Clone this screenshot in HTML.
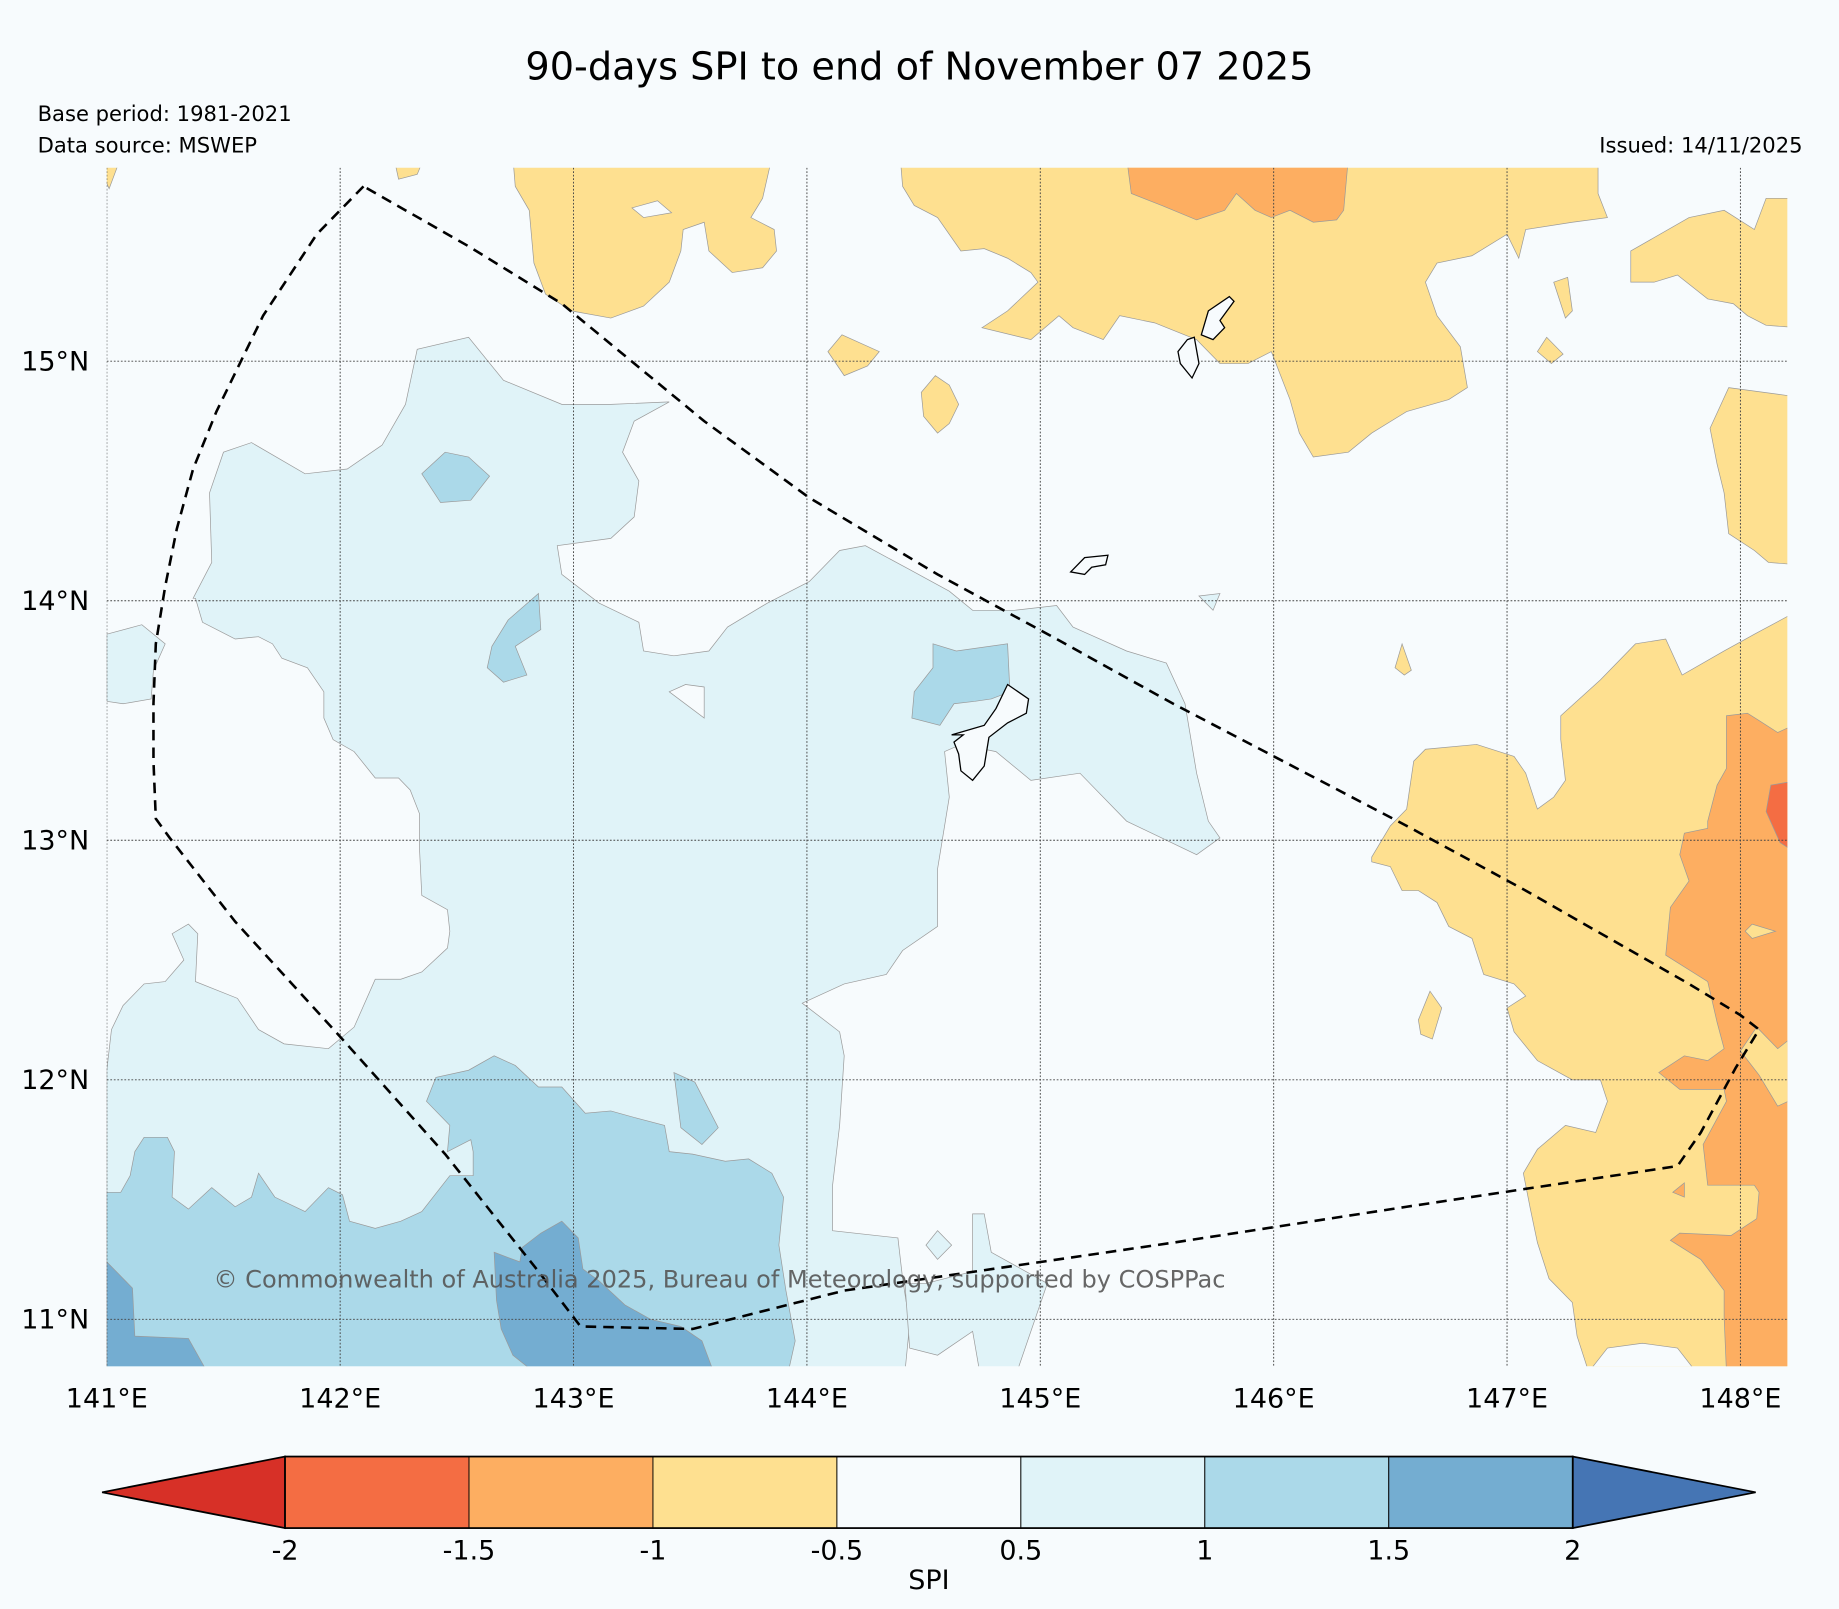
<!DOCTYPE html>
<html><head><meta charset="utf-8"><style>
html,body{margin:0;padding:0;background:#f7fbfd;}
svg{display:block;font-family:"DejaVu Sans","Liberation Sans",sans-serif;}
</style></head><body>
<svg id="chart" width="1839" height="1609" viewBox="0 0 1568 1372" xmlns="http://www.w3.org/2000/svg">
<rect x="0" y="0" width="1568" height="1372" fill="#f7fbfd"/>
<text x="784" y="68" text-anchor="middle" font-size="32.6" fill="#000">90-days SPI to end of November 07 2025</text>
<text x="32" y="103" font-size="18" fill="#000">Base period: 1981-2021</text>
<text x="32" y="130" font-size="18" fill="#000">Data source: MSWEP</text>
<text x="1537" y="130" text-anchor="end" font-size="18" fill="#000">Issued: 14/11/2025</text>
<defs><clipPath id="mapclip"><rect x="91" y="143" width="1433" height="1022"/></clipPath></defs>
<g id="map" clip-path="url(#mapclip)"></g>
<g id="axes"></g>
<g id="cbar"></g>
</svg>
<script>
// ---- data ----
const levels = [-2, -1.5, -1, -0.5, 0.5, 1, 1.5, 2];
const levelLabels = ["-2", "-1.5", "-1", "-0.5", "0.5", "1", "1.5", "2"];
const classColors = ["#d73027", "#f46d43", "#fdae61", "#fee090", "#f7fbfd", "#e0f3f8", "#abd9e9", "#74add1", "#4575b4"];
const lonTicks = [141, 142, 143, 144, 145, 146, 147, 148];
const lonLabels = ["141°E", "142°E", "143°E", "144°E", "145°E", "146°E", "147°E", "148°E"];
const latTicks = [11, 12, 13, 14, 15];
const latLabels = ["11°N", "12°N", "13°N", "14°N", "15°N"];

const lightMain = [[141.37,14.01],[141.45,14.16],[141.44,14.45],[141.50,14.62],[141.62,14.66],[141.85,14.53],[142.03,14.55],[142.18,14.65],[142.28,14.82],[142.33,15.05],[142.55,15.10],[142.70,14.92],[142.95,14.82],[143.16,14.82],[143.41,14.83],[143.26,14.75],[143.21,14.62],[143.28,14.50],[143.26,14.35],[143.16,14.26],[142.93,14.23],[142.95,14.11],[143.11,13.99],[143.28,13.91],[143.30,13.79],[143.43,13.77],[143.58,13.79],[143.66,13.89],[143.83,13.99],[144.01,14.08],[144.14,14.21],[144.25,14.23],[144.44,14.13],[144.61,14.04],[144.71,13.96],[144.89,13.96],[145.07,13.98],[145.14,13.89],[145.37,13.79],[145.54,13.74],[145.62,13.57],[145.67,13.28],[145.72,13.08],[145.77,13.01],[145.67,12.94],[145.52,13.01],[145.37,13.08],[145.17,13.28],[144.96,13.25],[144.81,13.37],[144.66,13.40],[144.59,13.37],[144.61,13.18],[144.56,12.88],[144.56,12.64],[144.41,12.54],[144.34,12.44],[144.16,12.40],[143.98,12.32],[144.14,12.20],[144.16,12.10],[144.14,11.81],[144.11,11.56],[144.11,11.37],[144.39,11.34],[144.41,11.17],[144.44,10.98],[144.42,10.78],[141.00,10.78],[141.00,12.04],[141.02,12.21],[141.07,12.31],[141.16,12.40],[141.25,12.41],[141.33,12.50],[141.28,12.61],[141.35,12.65],[141.39,12.61],[141.38,12.41],[141.56,12.34],[141.65,12.21],[141.76,12.15],[141.95,12.13],[142.06,12.22],[142.15,12.42],[142.26,12.42],[142.35,12.45],[142.46,12.55],[142.47,12.62],[142.46,12.71],[142.35,12.77],[142.34,12.96],[142.34,13.11],[142.30,13.21],[142.25,13.26],[142.15,13.26],[142.06,13.37],[141.97,13.42],[141.93,13.51],[141.93,13.62],[141.86,13.72],[141.75,13.76],[141.71,13.82],[141.65,13.85],[141.55,13.84],[141.41,13.91],[141.38,14.01]];
const lightLeft = [[141.00,13.86],[141.15,13.90],[141.25,13.82],[141.20,13.71],[141.19,13.59],[141.07,13.57],[141.00,13.58]];
const lightSouth = [[144.42,11.15],[144.51,11.15],[144.71,11.20],[144.71,11.44],[144.76,11.44],[144.79,11.28],[145.03,11.15],[144.96,10.95],[144.90,10.78],[144.74,10.78],[144.71,10.95],[144.56,10.85],[144.44,10.88]];
const lightDiamond = [[144.56,11.37],[144.62,11.31],[144.56,11.25],[144.51,11.31]];
const lightSmall = [[145.68,14.02],[145.77,14.03],[145.74,13.96]];
const holeWhite1 = [[143.41,13.62],[143.48,13.65],[143.56,13.64],[143.56,13.51]];
const medSouth = [[141.00,11.53],[141.06,11.53],[141.10,11.60],[141.12,11.70],[141.16,11.76],[141.26,11.76],[141.29,11.70],[141.28,11.51],[141.35,11.46],[141.45,11.55],[141.55,11.47],[141.62,11.51],[141.65,11.61],[141.72,11.51],[141.85,11.45],[141.95,11.55],[142.01,11.52],[142.04,11.41],[142.15,11.38],[142.26,11.41],[142.35,11.45],[142.47,11.60],[142.57,11.60],[142.57,11.70],[142.56,11.75],[142.46,11.70],[142.47,11.81],[142.37,11.91],[142.41,12.01],[142.55,12.04],[142.66,12.10],[142.75,12.06],[142.85,11.97],[142.95,11.97],[143.05,11.86],[143.16,11.87],[143.27,11.84],[143.39,11.81],[143.41,11.70],[143.51,11.69],[143.65,11.66],[143.75,11.67],[143.85,11.61],[143.90,11.51],[143.88,11.31],[143.91,11.12],[143.95,10.91],[143.92,10.78],[141.00,10.78]];
const medBlob1 = [[143.43,12.03],[143.52,11.99],[143.62,11.80],[143.55,11.73],[143.46,11.80]];
const medBlob2 = [[142.72,13.92],[142.85,14.03],[142.86,13.88],[142.75,13.81],[142.80,13.69],[142.70,13.66],[142.63,13.72],[142.65,13.81]];
const medBlob3 = [[142.35,14.53],[142.45,14.62],[142.55,14.60],[142.64,14.52],[142.56,14.42],[142.43,14.41]];
const medBlob4 = [[144.54,13.82],[144.64,13.79],[144.86,13.82],[144.87,13.62],[144.79,13.59],[144.72,13.58],[144.63,13.57],[144.57,13.48],[144.45,13.51],[144.46,13.62],[144.54,13.72]];
const darkCorner = [[141.00,11.24],[141.11,11.13],[141.12,10.93],[141.35,10.92],[141.43,10.78],[141.00,10.78]];
const darkMid = [[142.66,11.28],[142.77,11.24],[142.78,11.30],[142.86,11.36],[142.95,11.41],[143.02,11.34],[143.04,11.21],[143.11,11.16],[143.22,11.06],[143.33,11.00],[143.46,10.97],[143.55,10.91],[143.60,10.78],[142.83,10.78],[142.74,10.85],[142.69,10.96],[142.67,11.08]];
const yelTop1 = [[142.74,15.85],[143.85,15.85],[143.81,15.68],[143.76,15.60],[143.86,15.55],[143.87,15.46],[143.81,15.39],[143.68,15.37],[143.58,15.46],[143.56,15.58],[143.47,15.55],[143.46,15.46],[143.41,15.33],[143.30,15.23],[143.16,15.18],[142.99,15.21],[142.88,15.28],[142.83,15.41],[142.81,15.63],[142.75,15.73]];
const holeWhite2 = [[143.25,15.64],[143.36,15.67],[143.42,15.62],[143.30,15.60]];
const yelTop2 = [[144.40,15.85],[147.39,15.85],[147.39,15.70],[147.43,15.60],[147.28,15.58],[147.08,15.55],[147.05,15.43],[147.00,15.53],[146.85,15.44],[146.70,15.41],[146.65,15.33],[146.70,15.19],[146.80,15.06],[146.83,14.89],[146.75,14.84],[146.57,14.79],[146.42,14.70],[146.32,14.62],[146.17,14.60],[146.11,14.70],[146.07,14.84],[145.99,15.04],[145.89,14.99],[145.77,14.99],[145.67,15.09],[145.49,15.16],[145.34,15.19],[145.27,15.09],[145.14,15.14],[145.08,15.19],[144.96,15.09],[144.75,15.14],[144.86,15.21],[144.99,15.33],[144.96,15.37],[144.86,15.43],[144.76,15.47],[144.66,15.46],[144.56,15.60],[144.46,15.65],[144.41,15.73]];
const orgTop = [[145.37,15.85],[146.32,15.85],[146.30,15.63],[146.27,15.59],[146.17,15.58],[146.07,15.63],[145.99,15.60],[145.92,15.63],[145.84,15.70],[145.79,15.63],[145.67,15.59],[145.52,15.65],[145.39,15.70]];
const yelTopRight = [[147.53,15.46],[147.78,15.60],[147.93,15.63],[148.06,15.55],[148.11,15.68],[148.25,15.68],[148.25,15.14],[148.11,15.15],[148.03,15.19],[147.97,15.24],[147.86,15.26],[147.73,15.36],[147.63,15.33],[147.53,15.33]];
const yelRight1 = [[147.95,14.89],[148.25,14.85],[148.25,14.15],[148.12,14.16],[148.06,14.21],[147.95,14.28],[147.93,14.45],[147.90,14.57],[147.87,14.72]];
const yelS1 = [[144.09,15.04],[144.15,15.11],[144.31,15.04],[144.26,14.98],[144.16,14.94]];
const yelS2 = [[144.49,14.87],[144.55,14.94],[144.61,14.90],[144.65,14.82],[144.61,14.74],[144.56,14.70],[144.50,14.77]];
const yelS3 = [[147.13,15.04],[147.17,15.10],[147.24,15.03],[147.19,14.99]];
const yelS4 = [[147.20,15.33],[147.26,15.35],[147.28,15.21],[147.25,15.18]];
const yelS5 = [[142.23,15.85],[142.36,15.85],[142.33,15.78],[142.25,15.76]];
const yelS6 = [[140.95,15.85],[141.06,15.85],[141.01,15.72]];
const yelS7 = [[146.52,13.72],[146.55,13.82],[146.59,13.71],[146.56,13.69]];
const yelS8 = [[146.62,12.25],[146.67,12.37],[146.72,12.30],[146.68,12.17],[146.63,12.19]];
const yelRightBig = [[146.42,12.93],[146.50,13.06],[146.57,13.13],[146.60,13.33],[146.65,13.38],[146.87,13.40],[147.03,13.35],[147.08,13.28],[147.13,13.13],[147.20,13.18],[147.25,13.25],[147.23,13.42],[147.23,13.52],[147.40,13.67],[147.55,13.82],[147.68,13.84],[147.75,13.69],[147.93,13.79],[148.06,13.86],[148.25,13.96],[148.25,10.78],[147.35,10.78],[147.30,10.93],[147.28,11.07],[147.18,11.17],[147.13,11.32],[147.10,11.46],[147.07,11.61],[147.13,11.71],[147.25,11.81],[147.38,11.78],[147.43,11.91],[147.40,12.00],[147.28,12.00],[147.13,12.08],[147.03,12.20],[147.00,12.30],[147.08,12.35],[147.03,12.40],[146.90,12.44],[146.85,12.59],[146.75,12.64],[146.70,12.74],[146.62,12.79],[146.55,12.79],[146.50,12.89],[146.42,12.91]];
const holeWhite3 = [[147.35,10.78],[147.43,10.88],[147.58,10.90],[147.73,10.88],[147.81,10.78]];
const orgRight = [[147.94,13.52],[148.03,13.53],[148.08,13.50],[148.16,13.45],[148.25,13.49],[148.25,10.78],[147.94,10.78],[147.93,11.01],[147.93,11.12],[147.83,11.25],[147.70,11.33],[147.74,11.36],[147.96,11.35],[148.07,11.42],[148.08,11.53],[148.06,11.56],[147.86,11.56],[147.84,11.73],[147.94,11.91],[147.93,11.96],[147.74,11.96],[147.65,12.03],[147.76,12.10],[147.86,12.08],[147.93,12.13],[147.90,12.24],[147.86,12.41],[147.68,12.52],[147.70,12.72],[147.78,12.83],[147.74,12.94],[147.76,13.03],[147.86,13.05],[147.86,13.08],[147.90,13.23],[147.94,13.30]];
const yelInOrg1 = [[148.00,12.12],[148.07,12.22],[148.16,12.13],[148.25,12.20],[148.25,11.93],[148.16,11.89],[148.08,12.02]];
const yelInOrg2 = [[148.02,12.62],[148.05,12.65],[148.15,12.62],[148.05,12.59]];
const orgSmall = [[147.71,11.53],[147.76,11.57],[147.76,11.51]];
const redRight = [[148.13,13.23],[148.25,13.25],[148.25,12.94],[148.17,12.99],[148.11,13.12]];

const polygons = [
 [5,"contour-light-blue-main",lightMain],[5,"contour-light-blue-west",lightLeft],[5,"contour-light-blue-south",lightSouth],[5,"contour-light-blue-diamond",lightDiamond],[5,"contour-light-blue-small",lightSmall],
 [4,"contour-hole",holeWhite1],
 [6,"contour-mid-blue-south",medSouth],[6,"contour-mid-blue-blob",medBlob1],[6,"contour-mid-blue-blob",medBlob2],[6,"contour-mid-blue-blob",medBlob3],[6,"contour-mid-blue-blob",medBlob4],
 [7,"contour-dark-blue-corner",darkCorner],[7,"contour-dark-blue-mid",darkMid],
 [3,"contour-yellow-north",yelTop1],[4,"contour-hole",holeWhite2],[3,"contour-yellow-northeast",yelTop2],[2,"contour-orange-north",orgTop],
 [3,"contour-yellow-corner",yelTopRight],[3,"contour-yellow-east",yelRight1],
 [3,"contour-yellow-small",yelS1],[3,"contour-yellow-small",yelS2],[3,"contour-yellow-small",yelS3],[3,"contour-yellow-small",yelS4],[3,"contour-yellow-small",yelS5],[3,"contour-yellow-small",yelS6],[3,"contour-yellow-small",yelS7],[3,"contour-yellow-small",yelS8],
 [3,"contour-yellow-southeast",yelRightBig],[4,"contour-hole",holeWhite3],
 [2,"contour-orange-east",orgRight],[3,"contour-yellow-in-orange",yelInOrg1],[3,"contour-yellow-in-orange",yelInOrg2],[2,"contour-orange-small",orgSmall],[1,"contour-red-east",redRight]
];
const boundaryLine = [[142.10,15.73],[141.90,15.53],[141.67,15.19],[141.57,14.99],[141.47,14.79],[141.37,14.55],[141.30,14.30],[141.25,14.06],[141.21,13.82],[141.20,13.57],[141.20,13.33],[141.21,13.09],[141.27,13.01],[141.55,12.66],[142.00,12.18],[142.45,11.69],[142.85,11.20],[143.03,10.97],[143.51,10.96],[144.16,11.12],[145.57,11.32],[146.57,11.47],[147.73,11.64],[147.83,11.78],[147.98,12.05],[148.08,12.21],[148.00,12.27],[147.78,12.40],[147.08,12.79],[146.57,13.06],[145.57,13.57],[145.07,13.84],[144.56,14.11],[144.01,14.43],[143.56,14.75],[142.95,15.24],[142.55,15.48],[142.10,15.73]];
const islandGuam = [[144.86,13.65],[144.95,13.59],[144.94,13.53],[144.86,13.49],[144.78,13.43],[144.76,13.31],[144.71,13.25],[144.66,13.29],[144.65,13.36],[144.63,13.41],[144.67,13.44],[144.62,13.44],[144.76,13.48],[144.81,13.55]];
const islandRota = [[145.13,14.12],[145.19,14.18],[145.29,14.19],[145.28,14.15],[145.22,14.14],[145.19,14.11]];
const islandSaipan = [[145.72,15.21],[145.81,15.27],[145.83,15.25],[145.77,15.17],[145.79,15.14],[145.74,15.09],[145.69,15.11]];
const islandTinian = [[145.63,15.09],[145.66,15.10],[145.68,14.99],[145.65,14.93],[145.60,14.99],[145.59,15.04]];

// ---- axis functions ----
const X0 = 91, PXD = 199, Y15 = 308, PYD = 204.25;
function xOf(lon){ return X0 + (lon - 141) * PXD; }
function yOf(lat){ return Y15 + (15 - lat) * PYD; }
const NS = "http://www.w3.org/2000/svg";
function mk(tag, attrs, parent){ const e = document.createElementNS(NS, tag); for (const k in attrs) e.setAttribute(k, attrs[k]); parent.appendChild(e); return e; }
function ptsStr(arr){ return arr.map(p => xOf(p[0]).toFixed(1) + "," + yOf(p[1]).toFixed(1)).join(" "); }

const map = document.getElementById("map");
const bg = mk("rect", {x:91, y:143, width:1433, height:1022, fill:classColors[4]}, map);


polygons.forEach(p => {
  const el = mk("polygon", {points: ptsStr(p[2]), fill: classColors[p[0]], stroke: "#9a9a9a", "stroke-width": 0.6}, map);
  
  
});
lonTicks.forEach(l => {
  const g = mk("line", {x1:xOf(l), x2:xOf(l), y1:143, y2:1165, stroke:"#444", "stroke-width":0.8, "stroke-dasharray":"1.5,1.5"}, map);
  
  
});
latTicks.forEach(l => {
  const g = mk("line", {x1:91, x2:1524, y1:yOf(l), y2:yOf(l), stroke:"#444", "stroke-width":0.8, "stroke-dasharray":"1.5,1.5"}, map);
  
  
});
[islandGuam, islandRota, islandSaipan, islandTinian].forEach(isl => {
  const el = mk("polygon", {points: ptsStr(isl), fill: "#f7fbfd", stroke: "#000", "stroke-width": 1.1}, map);
  
  
});
const bl = mk("polyline", {points: ptsStr(boundaryLine), fill:"none", stroke:"#000", "stroke-width":2.2, "stroke-dasharray":"9,6"}, map);


const cp = mk("text", {x:182, y:1098, "font-size":20.5, fill:"#555", "fill-opacity":0.9}, map);
cp.textContent = "© Commonwealth of Australia 2025, Bureau of Meteorology, supported by COSPPac";



const axes = document.getElementById("axes");
lonTicks.forEach((l, i) => {
  const t = mk("text", {x:xOf(l), y:1200, "text-anchor":"middle", "font-size":23, fill:"#000"}, axes);
  t.textContent = lonLabels[i];
  
  
});
latTicks.forEach((l, i) => {
  const t = mk("text", {x:76, y:yOf(l)+8, "text-anchor":"end", "font-size":23, fill:"#000"}, axes);
  t.textContent = latLabels[i];
  
  
});

const cb = document.getElementById("cbar");
const CB_L = 243, CB_R = 1341, CB_T = 1242, CB_B = 1303, TIP_L = 87, TIP_R = 1497;
function cbx(v){ return CB_L + (levels.indexOf(v)) * (CB_R - CB_L) / (levels.length - 1); }
const mid = (CB_T + CB_B) / 2;
const lt = mk("polygon", {points: `${TIP_L},${mid} ${CB_L},${CB_T} ${CB_L},${CB_B}`, fill: classColors[0], stroke:"#000", "stroke-width":1.5}, cb);


const rt = mk("polygon", {points: `${TIP_R},${mid} ${CB_R},${CB_T} ${CB_R},${CB_B}`, fill: classColors[8], stroke:"#000", "stroke-width":1.5}, cb);


for (let i = 0; i < levels.length - 1; i++) {
  const x1 = cbx(levels[i]), x2 = cbx(levels[i+1]);
  const r = mk("rect", {x:x1, y:CB_T, width:x2-x1, height:CB_B-CB_T, fill:classColors[i+1], stroke:"#000", "stroke-width":0.8}, cb);
  
  
}
const ol = mk("rect", {x:CB_L, y:CB_T, width:CB_R-CB_L, height:CB_B-CB_T, fill:"none", stroke:"#000", "stroke-width":1.5}, cb);


levels.forEach((v, i) => {
  const t = mk("text", {x:cbx(v), y:1330, "text-anchor":"middle", "font-size":23, fill:"#000"}, cb);
  t.textContent = levelLabels[i];
  
  
});
const spi = mk("text", {x:792, y:1355, "text-anchor":"middle", "font-size":23, fill:"#000"}, cb);
spi.textContent = "SPI";


</script>
</body></html>
